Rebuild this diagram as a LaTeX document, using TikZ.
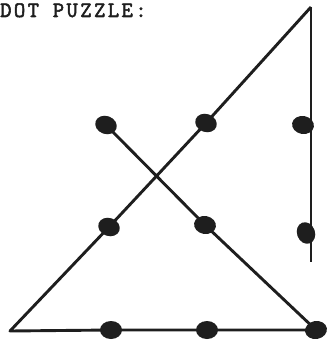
\documentclass[tikz,border=0pt]{standalone}
\usepackage{fontspec}
\newfontfamily\typew[FakeBold=2.5,LetterSpace=11]{Latin Modern Mono}
\usetikzlibrary{backgrounds,shapes.geometric}
\definecolor{ink}{HTML}{1E1E1E}
\tikzset{
  dot/.style={ellipse, fill=ink, inner sep=0pt, minimum width=22pt, minimum height=18pt, rotate=#1},
  dot/.default=-20,
  stroke/.style={draw=ink, line width=2.9pt, line join=round},
  title/.style={anchor=base west, inner sep=0pt, text=ink, font=\typew\fontsize{22}{24}\selectfont}
}
\begin{document}
\begin{tikzpicture}[x=1pt, y=-1pt]
\useasboundingbox (0,0) rectangle (328,342);
\clip (0,0) rectangle (328,342);
\node[title] (t) at (0,17) {DOT PUZZLE:};
\coordinate (A) at (311,7);
\coordinate (BL) at (10,331);
\coordinate (E) at (311,262);
\node[dot] (d11) at (106,125) {};
\node[dot] (d12) at (206,123) {};
\node[dot=-10] (d13) at (303,125) {};
\node[dot] (d21) at (109,227) {};
\node[dot=-10] (d22) at (205,225) {};
\node[dot=-70] (d23) at (306,233) {};
\node[dot=0] (d31) at (111,330) {};
\node[dot=0] (d32) at (207,330) {};
\node[dot=10] (d33) at (316,330) {};
\begin{scope}[on background layer]
\draw[stroke] (A) -- (d12.center) -- (d21.center) -- (BL) -- (d31.center) -- (d32.center) -- (d33.center) -- (d22.center) -- (d11.center);
\draw[stroke] (A) -- (311,233) -- (E);
\end{scope}
\end{tikzpicture}
\end{document}
